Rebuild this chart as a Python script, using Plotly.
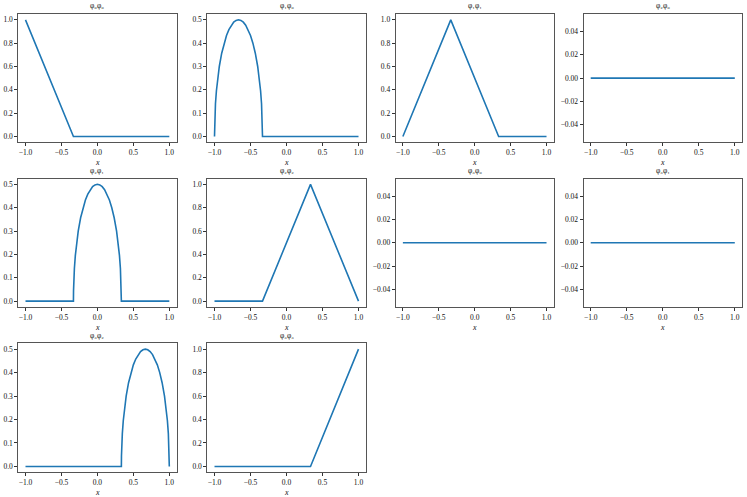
import plotly.graph_objects as go

# ---- data ----
titles = ["φ₀φ₀", "φ₁φ₀", "φ₁φ₁", "φ₂φ₀", "φ₂φ₁", "φ₂φ₂", "φ₃φ₀", "φ₃φ₁", "φ₃φ₂", "φ₃φ₃"]

arc_y = [0.0, 0.0447, 0.0891, 0.14, 0.196, 0.255, 0.3, 0.357, 0.4, 0.433, 0.458, 0.477, 0.49, 0.4975,
         0.5, 0.4975, 0.49, 0.477, 0.458, 0.433, 0.4, 0.357, 0.3, 0.255, 0.196, 0.14, 0.0891, 0.0447, 0.0]

p00_x = [-1.0, -0.3333, 1.0]
p00_y = [1.0, 0.0, 0.0]

p10_x = [-1.0, -0.9987, -0.9947, -0.9867, -0.9733, -0.9533, -0.9333, -0.9, -0.8667, -0.8333,
         -0.8, -0.7667, -0.7333, -0.7, -0.6667, -0.6333, -0.6, -0.5667, -0.5333, -0.5,
         -0.4667, -0.4333, -0.4, -0.38, -0.36, -0.3467, -0.3387, -0.3347, -0.3333, 1.0]
p10_y = arc_y + [0.0]

p11_x = [-1.0, -0.3333, 0.3333, 1.0]
p11_y = [0.0, 1.0, 0.0, 0.0]

p20_x = [-1.0, 1.0]
p20_y = [0.0, 0.0]

p21_x = [-1.0, -0.3333, -0.332, -0.328, -0.32, -0.3067, -0.2867, -0.2667, -0.2333, -0.2, -0.1667,
         -0.1333, -0.1, -0.0667, -0.0333, 0.0, 0.0333, 0.0667, 0.1, 0.1333, 0.1667,
         0.2, 0.2333, 0.2667, 0.2867, 0.3067, 0.32, 0.328, 0.332, 0.3333, 1.0]
p21_y = [0.0] + arc_y + [0.0]

p22_x = [-1.0, -0.3333, 0.3333, 1.0]
p22_y = [0.0, 0.0, 1.0, 0.0]

p30_x = [-1.0, 1.0]
p30_y = [0.0, 0.0]

p31_x = [-1.0, 1.0]
p31_y = [0.0, 0.0]

p32_x = [-1.0, 0.3333, 0.3347, 0.3387, 0.3467, 0.36, 0.38, 0.4, 0.4333, 0.4667, 0.5,
         0.5333, 0.5667, 0.6, 0.6333, 0.6667, 0.7, 0.7333, 0.7667, 0.8, 0.8333,
         0.8667, 0.9, 0.9333, 0.9533, 0.9733, 0.9867, 0.9947, 0.9987, 1.0]
p32_y = [0.0] + arc_y

p33_x = [-1.0, 0.3333, 1.0]
p33_y = [0.0, 0.0, 1.0]

xs = [p00_x, p10_x, p11_x, p20_x, p21_x, p22_x, p30_x, p31_x, p32_x, p33_x]
ys = [p00_y, p10_y, p11_y, p20_y, p21_y, p22_y, p30_y, p31_y, p32_y, p33_y]

x_ticks = [-1.0, -0.5, 0.0, 0.5, 1.0]
ticks_unit = [0.0, 0.2, 0.4, 0.6, 0.8, 1.0]
ticks_half = [0.0, 0.1, 0.2, 0.3, 0.4, 0.5]
ticks_zero = [-0.04, -0.02, 0.0, 0.02, 0.04]

# ---- layout ----
W, H = 747, 497
col_px = [(18.3, 176.5), (207.3, 365.7), (395.7, 553.7), (583.5, 742.0)]
row_px = [(14.0, 142.3), (178.5, 307.0), (343.3, 472.3)]

fig = go.Figure()
font_family = "Liberation Serif, DejaVu Serif, serif"
annotations = []
for i in range(10):
    r, c = divmod(i, 4)
    n = "" if i == 0 else str(i + 1)
    fig.add_trace(go.Scatter(x=xs[i], y=ys[i], mode="lines",
                             line=dict(color="#1f77b4", width=1.6),
                             xaxis="x" + n, yaxis="y" + n, showlegend=False,
                             hoverinfo="skip"))
    ymax = max(ys[i])
    if ymax >= 0.99:
        yr, yt, yf = [-0.05, 1.05], ticks_unit, ".1f"
    elif ymax > 0.1:
        yr, yt, yf = [-0.025, 0.525], ticks_half, ".1f"
    else:
        yr, yt, yf = [-0.055, 0.055], ticks_zero, ".2f"
    x0, x1 = col_px[c]
    t0, t1 = row_px[r]
    common = dict(showgrid=False, zeroline=False, showline=True, mirror=True,
                  linecolor="#555", linewidth=1, ticks="outside", ticklen=3,
                  tickwidth=0.8, tickcolor="#333",
                  tickfont=dict(family=font_family, size=7.5, color="#111"))
    fig.layout["xaxis" + n] = dict(domain=[x0 / W, x1 / W], range=[-1.1, 1.1],
                                   tickvals=x_ticks, tickformat=".1f",
                                   anchor="y" + n, **common)
    fig.layout["yaxis" + n] = dict(domain=[1 - t1 / H, 1 - t0 / H], range=yr,
                                   tickvals=yt, tickformat=yf,
                                   anchor="x" + n, **common)
    annotations.append(dict(text=titles[i], x=(x0 + x1) / 2 / W, y=1 - (t0 - 1.5) / H,
                            xref="paper", yref="paper", xanchor="center", yanchor="bottom",
                            showarrow=False,
                            font=dict(family=font_family, size=7.5, color="#111")))
    annotations.append(dict(text="<i>x</i>", x=(x0 + x1) / 2 / W, y=1 - (t1 + 13.5) / H,
                            xref="paper", yref="paper", xanchor="center", yanchor="top",
                            showarrow=False,
                            font=dict(family=font_family, size=8, color="#111")))

fig.update_layout(width=W, height=H, margin=dict(l=0, r=0, t=0, b=0),
                  paper_bgcolor="white", plot_bgcolor="white",
                  annotations=annotations)
fig.write_html("out.html", config={"displayModeBar": False},
               post_script="document.body.style.margin='0';document.body.style.overflow='hidden';")
